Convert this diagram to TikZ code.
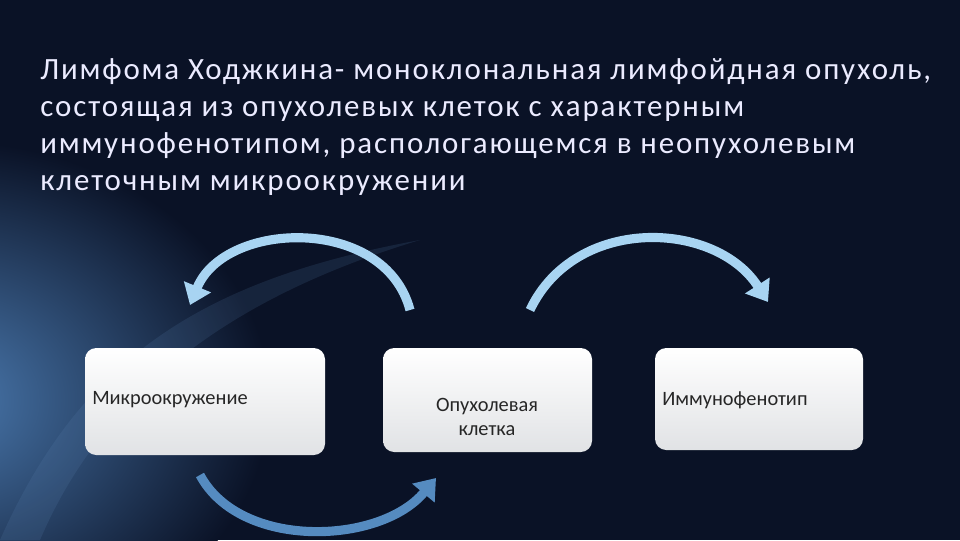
\documentclass[tikz,border=0pt]{standalone}
\usepackage{fontspec}
\setmainfont{Carlito}
\usetikzlibrary{arrows.meta}
\definecolor{bgdark}{HTML}{0A1226}
\definecolor{bgblue}{HTML}{1E5A9E}
\definecolor{arrowc}{HTML}{A8D4F2}
\definecolor{boxc}{HTML}{F2F4F7}
\tikzset{
  box/.style={draw=none, rounded corners=8pt, top color=white, bottom color=boxc!85!gray},
  cyc/.style={line width=6.5pt, draw=arrowc, -{Triangle[length=14pt,width=20pt]}},
  title/.style={text=white!92!blue, font=\fontsize{22}{26.5}\selectfont\addfontfeatures{LetterSpace=6}, align=left, anchor=north west, inner sep=0pt},
  lbl/.style={text=black!85, font=\fontsize{14.5}{17.5}\selectfont, inner sep=0pt}
}
\begin{document}
\begin{tikzpicture}[x=0.025cm,y=-0.025cm]
\useasboundingbox (0,0) rectangle (960,540);
\fill[bgdark] (0,0) rectangle (960,540);
\begin{scope}
\clip (0,0) rectangle (960,540);
\shade[inner color=bgblue!80, outer color=bgdark] (-60,400) ellipse (330 and 260);
\fill[bgblue!70, opacity=0.15] (0,540) .. controls (80,360) and (200,280) .. (420,240) .. controls (220,300) and (100,400) .. (40,540) -- cycle;
\end{scope}
\node[title] (t) at (40,58) {Лимфома Ходжкина- моноклональная лимфойдная опухоль,\\состоящая из опухолевых клеток с характерным\\иммунофенотипом, распологающемся в неопухолевым\\клеточным микроокружении};
\path[box] (85,348) rectangle (325,455);
\path[box] (383,348) rectangle (592,452);
\path[box] (655,348) rectangle (863,450);
\node[lbl, anchor=west] (b1) at (92,400) {Микроокружение};
\node[lbl, align=center] (b2) at (487,417) {Опухолевая\\клетка};
\node[lbl, anchor=west] (b3) at (662,400) {Иммунофенотип};
\coordinate (a1s) at (410,310); \coordinate (a1e) at (190,305);
\coordinate (a2s) at (530,310); \coordinate (a2e) at (768,302);
\coordinate (a3s) at (200,475); \coordinate (a3e) at (436,478);
\draw[cyc] (a1s) .. controls (385,215) and (225,220) .. (a1e);
\draw[cyc] (a2s) .. controls (575,215) and (715,220) .. (a2e);
\draw[cyc, draw=bgblue!60!arrowc] (a3s) .. controls (240,550) and (380,545) .. (a3e);
\end{tikzpicture}
\end{document}
